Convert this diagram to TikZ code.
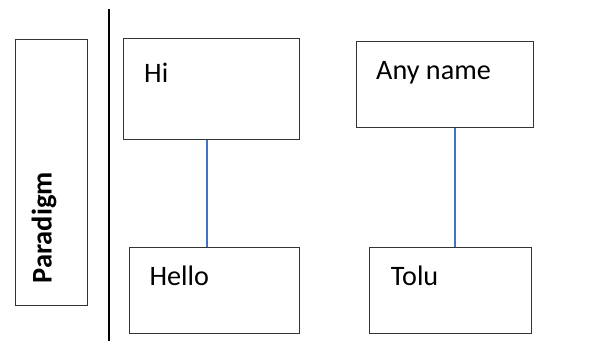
\documentclass[tikz,border=0pt]{standalone}
\usepackage{fontspec}
\setmainfont{Carlito}
\begin{document}
\begin{tikzpicture}[x=1pt,y=-1pt,
  box/.style={draw=black!80,line width=0.9pt,fill=white,inner sep=0pt,anchor=north west},
  lbl/.style={inner sep=0pt,anchor=base west,font=\fontsize{28.2}{32}\selectfont},
  conn/.style={draw={rgb,255:red,68;green,114;blue,196},line width=1.2pt}]
\useasboundingbox (0,0) rectangle (597,351);
% separator
\coordinate (septop) at (108.7,9);
\coordinate (sepbot) at (108.7,341);
\draw[line width=1.6pt] (septop) -- (sepbot);
% paradigm box
\node[box,minimum width=71.7pt,minimum height=266pt] (par) at (15.3,39.3) {};
\node[inner sep=0pt,anchor=base west,rotate=90,font=\bfseries\fontsize{28.5}{32}\selectfont] (partxt) at (51.7,283.5) {Paradigm};
% boxes
\node[box,minimum width=176pt,minimum height=100.7pt] (hi) at (123.3,38) {};
\node[box,minimum width=170pt,minimum height=86.6pt] (hello) at (129.3,246.7) {};
\node[box,minimum width=176.7pt,minimum height=86.6pt] (any) at (356,40.7) {};
\node[box,minimum width=161.4pt,minimum height=86.6pt] (tolu) at (369.3,246.7) {};
\node[lbl] (hitxt) at (144,82) {Hi};
\node[lbl] (anytxt) at (376,79) {Any name};
\node[lbl] (hellotxt) at (149.3,285) {Hello};
\node[lbl] (tolutxt) at (390.7,285.7) {Tolu};
% connectors
\coordinate (c1) at (207,0);
\coordinate (c2) at (455,0);
\draw[conn] (hi.south -| c1) -- (hello.north -| c1);
\draw[conn] (any.south -| c2) -- (tolu.north -| c2);
\end{tikzpicture}
\end{document}
